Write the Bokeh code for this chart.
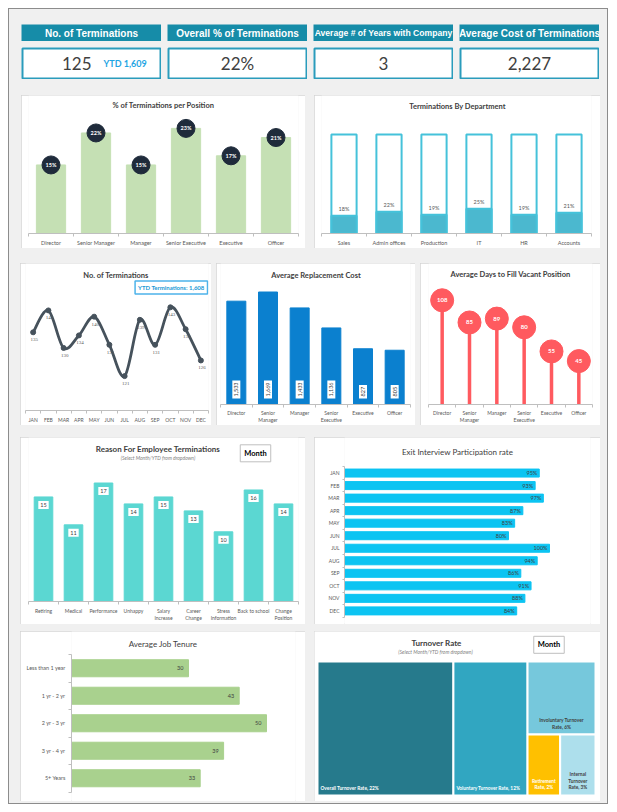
import math
from bokeh.plotting import figure
from bokeh.layouts import row, column
from bokeh.models import Range1d, FixedTicker, Label
from bokeh.core.properties import value
from bokeh.embed import file_html
from bokeh.resources import INLINE

# ---------------- data ----------------
kpi_titles = ["No. of Terminations", "Overall % of Terminations",
              "Average # of Years with Company", "Average Cost of Terminations"]
kpi_values = ["125", "22%", "3", "2,227"]
kpi_ytd = "YTD 1,609"

positions = ["Director", "Senior Manager", "Manager", "Senior Executive", "Executive", "Officer"]
pct_term_position = [15, 22, 15, 23, 17, 21]

departments = ["Sales", "Admin offices", "Production", "IT", "HR", "Accounts"]
dept_term_pct = [18, 22, 19, 25, 19, 21]

months = ["JAN", "FEB", "MAR", "APR", "MAY", "JUN", "JUL", "AUG", "SEP", "OCT", "NOV", "DEC"]
monthly_terminations = [135, 142, 130, 134, 140, 131, 121, 139, 131, 143, 136, 126]
ytd_terminations = "1,608"

positions_2l = ["Director", "Senior\nManager", "Manager", "Senior\nExecutive", "Executive", "Officer"]
replacement_cost = [1533, 1669, 1433, 1136, 827, 805]
days_to_fill = [108, 85, 89, 80, 55, 45]

reasons = ["Retiring", "Medical", "Performance", "Unhappy", "Salary\nIncrease",
           "Career\nChange", "Stress\nInformation", "Back to school", "Change\nPosition"]
reason_counts = [15, 11, 17, 14, 15, 13, 10, 16, 14]

exit_rate = [95, 93, 97, 87, 83, 80, 100, 94, 86, 91, 88, 84]

tenure_groups = ["Less than 1 year", "1 yr - 2 yr", "2 yr - 3 yr", "3 yr - 4 yr", "5+ Years"]
tenure_values = [30, 43, 50, 39, 33]

turnover_names = ["Overall Turnover Rate", "Voluntary Turnover Rate", "Involuntary Turnover Rate",
                  "Retirement Rate", "Internal Turnover Rate"]
turnover_values = [22, 12, 6, 2.4, 2.6]

# ---------------- styles ----------------
BG = "#f0f0f0"
HEAD = "#168ca8"
BOXC = "#2a9cbc"
FONT = "Lato"
TITLE_C = "#404040"
TICK_C = "#595959"
PANEL_STYLE = {"outline": "1px solid #d4d4d4", "outline-offset": "-1px"}
HEAD_SIZES = ["10px", "10px", "8.6px", "10px"]


def base_fig(w, h, xr, yr, l=0, r=0, t=0, b=0, xaxis=True, yaxis=False, panel=True):
    p = figure(width=w, height=h, x_range=xr, y_range=yr, output_backend="svg",
               toolbar_location=None, tools="",
               x_axis_type="linear" if xaxis else None,
               y_axis_type="linear" if yaxis else None,
               min_border_left=l, min_border_right=r, min_border_top=t, min_border_bottom=b)
    p.frame_align = False
    p.outline_line_color = None
    p.background_fill_color = "white"
    p.border_fill_color = "white"
    p.xgrid.visible = False
    p.ygrid.visible = False
    if panel:
        p.styles = PANEL_STYLE
    return p


def style_cat_axis(ax, labels, size="5.5px", font=FONT, tick_out=3, standoff=3):
    n = len(labels)
    ax.ticker = FixedTicker(ticks=list(range(n)), minor_ticks=[i - 0.5 for i in range(n + 1)])
    ax.major_label_overrides = {i: lab for i, lab in enumerate(labels)}
    ax.axis_line_color = "#bfbfbf"
    ax.major_tick_line_color = None
    ax.major_tick_out = 0
    ax.major_tick_in = 0
    ax.minor_tick_line_color = "#bfbfbf"
    ax.minor_tick_out = tick_out
    ax.minor_tick_in = 0
    ax.major_label_text_font = font
    ax.major_label_text_font_size = size
    ax.major_label_text_color = TICK_C
    ax.major_label_standoff = standoff


def add_label(p, text, x, y, size="7.5px", style="bold", color=TITLE_C, align="center", **kw):
    p.add_layout(Label(x=x, y=y, x_units="screen", y_units="screen", text=text,
                       text_align=align, text_baseline="middle", text_font=FONT,
                       text_font_size=size, text_font_style=style, text_color=color, **kw))


# ---------------- KPI cards ----------------
def kpi_header(text, size):
    p = base_fig(140, 17, Range1d(0, 1), Range1d(0, 1), xaxis=False, panel=False)
    p.background_fill_color = HEAD
    p.border_fill_color = HEAD
    p.add_layout(Label(x=70, y=8.5, x_units="screen", y_units="screen", text=text,
                       text_align="center", text_baseline="middle", text_font="Liberation Sans",
                       text_font_style="bold", text_font_size=size, text_color="white"))
    return p


def kpi_value(val, extra=None):
    p = base_fig(140, 32, Range1d(0, 1), Range1d(0, 1), l=1, r=1, t=1, b=1, xaxis=False, panel=False)
    p.outline_line_color = BOXC
    p.outline_line_width = 2
    if extra:
        add_label(p, val, 69, 15, size="17px", style="normal", color="#404040", align="right")
        add_label(p, extra, 81, 15.5, size="9px", style="bold", color="#1fa5e3", align="left")
    else:
        add_label(p, val, 69, 15, size="17px", style="normal", color="#404040")
    return p


heads = [kpi_header(t, s) for t, s in zip(kpi_titles, HEAD_SIZES)]
vals = [kpi_value(kpi_values[0], kpi_ytd)] + [kpi_value(v) for v in kpi_values[1:]]

# ---------------- % of Terminations per Position ----------------
W, H, L, R, B = 284, 153, 7, 7, 15
fh = H - B
n = len(positions)
idx = list(range(n))
f1 = base_fig(W, H, Range1d(-0.5, n - 0.5), Range1d(0, fh / 4.57), l=L, r=R, b=B)
style_cat_axis(f1.xaxis[0], positions)
f1.vbar(x=idx, top=pct_term_position, width=0.65, color="#c5e0b4")
f1.scatter(x=idx, y=pct_term_position, size=18, color="#1f2b3b")
f1.text(x=idx, y=pct_term_position, text=[f"{v}%" for v in pct_term_position],
        text_align="center", text_baseline="middle", text_color="white",
        text_font=value(FONT), text_font_style="bold", text_font_size="5.5px")
add_label(f1, "% of Terminations per Position", W / 2 - L, fh - 10)

# ---------------- Terminations By Department ----------------
W, H, L, R, B = 286, 153, 7, 9, 15
fh = H - B
n = len(departments)
idx = list(range(n))
f2 = base_fig(W, H, Range1d(-0.5, n - 0.5), Range1d(0, fh / 0.99), l=L, r=R, b=B)
style_cat_axis(f2.xaxis[0], departments)
f2.vbar(x=idx, top=[100] * n, width=0.56, fill_color="white", line_color="#45c2da", line_width=2)
f2.vbar(x=idx, top=dept_term_pct, width=0.56, fill_color="#4bb8cf", line_color="#45c2da", line_width=2)
f2.text(x=idx, y=dept_term_pct, text=[f"{v}%" for v in dept_term_pct], y_offset=-4,
        text_align="center", text_baseline="bottom", text_color=TICK_C,
        text_font=value(FONT), text_font_size="5.5px")
add_label(f2, "Terminations By Department", W / 2 - L, fh - 11)

# ---------------- No. of Terminations (smooth line) ----------------
W, H, L, R, B = 191, 162, 5, 3, 15
fh = H - B
n = len(months)
xs = list(range(n))
ys = monthly_terminations
f3 = base_fig(W, H, Range1d(-0.5, n - 0.5), Range1d(110, 157), l=L, r=R, b=B)
style_cat_axis(f3.xaxis[0], months, size="5px")
bz = dict(x0=[], y0=[], x1=[], y1=[], cx0=[], cy0=[], cx1=[], cy1=[])
for i in range(n - 1):
    xm, ym = (xs[i - 1], ys[i - 1]) if i > 0 else (xs[i], ys[i])
    xp, yp = (xs[i + 2], ys[i + 2]) if i + 2 < n else (xs[i + 1], ys[i + 1])
    bz["x0"].append(xs[i]); bz["y0"].append(ys[i])
    bz["x1"].append(xs[i + 1]); bz["y1"].append(ys[i + 1])
    bz["cx0"].append(xs[i] + (xs[i + 1] - xm) / 6); bz["cy0"].append(ys[i] + (ys[i + 1] - ym) / 6)
    bz["cx1"].append(xs[i + 1] - (xp - xs[i]) / 6); bz["cy1"].append(ys[i + 1] - (yp - ys[i]) / 6)
f3.bezier(line_color="#46525c", line_width=2.8, **bz)
f3.scatter(x=xs, y=ys, size=5, fill_color="#46525c", line_color="#46525c")
f3.text(x=xs, y=ys, text=[str(v) for v in ys], y_offset=6, x_offset=1,
        text_align="center", text_baseline="top", text_color=TICK_C,
        text_font=value("Liberation Serif"), text_font_size="5px")
add_label(f3, "No. of Terminations", W / 2 - L, fh - 11.7)
add_label(f3, f"YTD Terminations: {ytd_terminations}", 182, fh - 24, size="6px",
          color="#1a98d5", align="right", padding=3, background_fill_color="white",
          border_line_color="#4db3ea", border_line_width=1.5)

# ---------------- Average Replacement Cost ----------------
W, H, L, R, B = 199, 162, 4, 5, 21
fh = H - B
n = len(positions_2l)
idx = list(range(n))
f4 = base_fig(W, H, Range1d(-0.5, n - 0.5), Range1d(0, fh / 0.0674), l=L, r=R, b=B)
style_cat_axis(f4.xaxis[0], positions_2l, size="5px", standoff=2)
f4.vbar(x=idx, top=replacement_cost, width=0.6, color="#0b80cf")
f4.text(x=idx, y=[0] * n, text=[f"{v:,}" for v in replacement_cost], angle=math.pi / 2,
        y_offset=-6, text_align="left", text_baseline="middle", text_color="#404040",
        text_font=value(FONT), text_font_size="5.5px",
        background_fill_color="white", padding=2)
add_label(f4, "Average Replacement Cost", W / 2 - L, fh - 11.7)

# ---------------- Average Days to Fill Vacant Position ----------------
W, H, L, R, B = 180, 162, 8, 8, 20
fh = H - B
n = len(positions_2l)
idx = list(range(n))
f5 = base_fig(W, H, Range1d(-0.5, n - 0.5), Range1d(0, fh / 0.972), l=L, r=R, b=B)
style_cat_axis(f5.xaxis[0], positions_2l, size="5px", standoff=2)
f5.segment(x0=idx, y0=[0] * n, x1=idx, y1=days_to_fill, line_color="#ff5a5f", line_width=3.5)
f5.scatter(x=idx, y=days_to_fill, size=23, color="#ff5a5f")
f5.text(x=idx, y=days_to_fill, text=[str(v) for v in days_to_fill],
        text_align="center", text_baseline="middle", text_color="white",
        text_font=value(FONT), text_font_style="bold", text_font_size="6px")
add_label(f5, "Average Days to Fill Vacant Position", W / 2 - L, fh - 11.7)

# ---------------- Reason For Employee Terminations ----------------
W, H, L, R, B = 285, 187, 8, 7, 23
fh = H - B
n = len(reasons)
idx = list(range(n))
f6 = base_fig(W, H, Range1d(-0.5, n - 0.5), Range1d(0, fh / 6.97), l=L, r=R, b=B)
style_cat_axis(f6.xaxis[0], reasons, size="5px")
f6.vbar(x=idx, top=reason_counts, width=0.62, color="#5bd7d2")
f6.text(x=idx, y=reason_counts, text=[str(v) for v in reason_counts], y_offset=8,
        text_align="center", text_baseline="middle", text_color="#404040",
        text_font=value(FONT), text_font_size="5.5px",
        background_fill_color="white", padding=2)
add_label(f6, "Reason For Employee Terminations", 137.5 - L, fh - 11, size="8px")
add_label(f6, "(Select Month/YTD from dropdown)", 137.5 - L, fh - 20.5, size="5px",
          style="italic", color="#7f7f7f")
add_label(f6, "Month", 235 - L, fh - 15.8, size="7.5px", color="black",
          padding=4, background_fill_color="white", border_line_color="#bfbfbf", border_line_width=1)

# ---------------- Exit Interview Participation rate ----------------
W, H, L, R = 286, 187, 30, 10
n = len(months)
idx = list(range(n))
pitch = 12.53
px_per_pct = 2.05
y_end = -0.5 - 29.3 / pitch
f7 = base_fig(W, H, Range1d(0, (W - L - R) / px_per_pct), Range1d(y_end + H / pitch, y_end),
              l=L, r=R, xaxis=False, yaxis=True)
style_cat_axis(f7.yaxis[0], months, size="5px", tick_out=2)
f7.yaxis[0].bounds = (-0.5, n - 0.5)
f7.hbar(y=idx, left=0, right=exit_rate, height=0.64, color="#0cc4f2")
f7.text(x=exit_rate, y=idx, text=[f"{v}%" for v in exit_rate], x_offset=-2,
        text_align="right", text_baseline="middle", text_color="#404040",
        text_font=value(FONT), text_font_size="5.5px")
f7.text(x=[(W / 2 - L) / px_per_pct], y=[y_end + 14.3 / pitch],
        text=["Exit Interview Participation rate"], text_align="center", text_baseline="middle",
        text_color=TITLE_C, text_font=value(FONT), text_font_size="8px")

# ---------------- Average Job Tenure ----------------
W, H, L, R = 285, 170, 51, 10
n = len(tenure_groups)
idx = list(range(n))
pitch = 27.5
y_end = -0.5 - 23 / pitch
f8 = base_fig(W, H, Range1d(0, (W - L - R) / 3.9), Range1d(y_end + H / pitch, y_end),
              l=L, r=R, xaxis=False, yaxis=True)
style_cat_axis(f8.yaxis[0], tenure_groups, size="5.5px")
f8.yaxis[0].bounds = (-0.5, n - 0.5)
f8.hbar(y=idx, left=0, right=tenure_values, height=0.62, color="#a9d18e")
f8.text(x=tenure_values, y=idx, text=[str(v) for v in tenure_values], x_offset=-5,
        text_align="right", text_baseline="middle", text_color="#404040",
        text_font=value(FONT), text_font_size="5.5px")
add_label(f8, "Average Job Tenure", W / 2 - L, H - 12, size="8px", style="normal")

# ---------------- Turnover Rate (treemap) ----------------
W, H = 286, 170
f9 = base_fig(W, H, Range1d(0, W), Range1d(H, 0), xaxis=False)


def squarify(values, x, y, w, h):
    total = sum(values)
    areas = [v * w * h / total for v in values]
    out = []

    def worst(rw, side):
        s = sum(rw)
        return max(max(side * side * a / (s * s), (s * s) / (side * side * a)) for a in rw)

    i = 0
    while i < len(areas):
        side = min(w, h)
        rw = [areas[i]]
        j = i + 1
        while j < len(areas) and worst(rw + [areas[j]], side) <= worst(rw, side):
            rw.append(areas[j])
            j += 1
        s = sum(rw)
        if w >= h:
            cw = s / h
            cy = y
            for a in rw:
                out.append((x, cy, cw, a / cw))
                cy += a / cw
            x += cw
            w -= cw
        else:
            rh = s / w
            cx = x
            for a in rw:
                out.append((cx, y, a / rh, rh))
                cx += a / rh
            y += rh
            h -= rh
        i = j
    return out


def wrap(text, maxc):
    words, lines, cur = text.split(" "), [], ""
    for wd in words:
        if cur and len(cur) + 1 + len(wd) > maxc:
            lines.append(cur)
            cur = wd
        else:
            cur = (cur + " " + wd) if cur else wd
    lines.append(cur)
    return "\n".join(lines)


tm_colors = ["#267a8c", "#31a6c1", "#76c8dc", "#ffc000", "#addfec"]
tm_text_colors = ["white", "white", "#404040", "white", "#404040"]
tm_align = ["left", "left", "center", "center", "center"]
tm_wrap = [40, 30, 21, 10, 9]
rects = squarify(turnover_values, 3, 30, 278, 134)
f9.quad(left=[r[0] for r in rects], right=[r[0] + r[2] for r in rects],
        top=[r[1] for r in rects], bottom=[r[1] + r[3] for r in rects],
        fill_color=tm_colors, line_color="white", line_width=2)
lbl_x = [r[0] + 3 if a == "left" else r[0] + r[2] / 2 for r, a in zip(rects, tm_align)]
lbl_y = [r[1] + r[3] - 5 for r in rects]
lbl_t = [wrap(f"{nm}, {round(v)}%", m) for nm, v, m in zip(turnover_names, turnover_values, tm_wrap)]
f9.text(x=lbl_x, y=lbl_y, text=lbl_t, text_align=tm_align, text_baseline="bottom",
        text_color=tm_text_colors, text_font=value(FONT), text_font_style="bold",
        text_font_size="4.8px", text_line_height=1.15)
add_label(f9, "Turnover Rate", 122, H - 11, size="8px")
add_label(f9, "(Select Month/YTD from dropdown)", 121, H - 20.3, size="5px",
          style="italic", color="#7f7f7f")
add_label(f9, "Month", 234.5, H - 13.3, size="7.5px", color="black",
          padding=4, background_fill_color="white", border_line_color="#bfbfbf", border_line_width=1)

# ---------------- layout ----------------
r_head = row(heads, spacing=6, margin=(16, 0, 0, 13))
r_val = row(vals, spacing=6, margin=(6, 0, 0, 13))
r2 = row([f1, f2], spacing=9, margin=(16, 0, 0, 13))
r3 = row([f3, f4, f5], spacing=5, margin=(15, 0, 0, 12))
r4 = row([f6, f7], spacing=9, margin=(12, 0, 0, 12))
r5 = row([f8, f9], spacing=9, margin=(7, 0, 0, 12))
page = column([r_head, r_val, r2, r3, r4, r5], width=600, height=796, margin=(8, 0, 0, 8),
              styles={"background-color": BG, "outline": "1px solid #8c8c8c",
                      "outline-offset": "-1px"})

open("out.html", "w").write(file_html(page, INLINE))
